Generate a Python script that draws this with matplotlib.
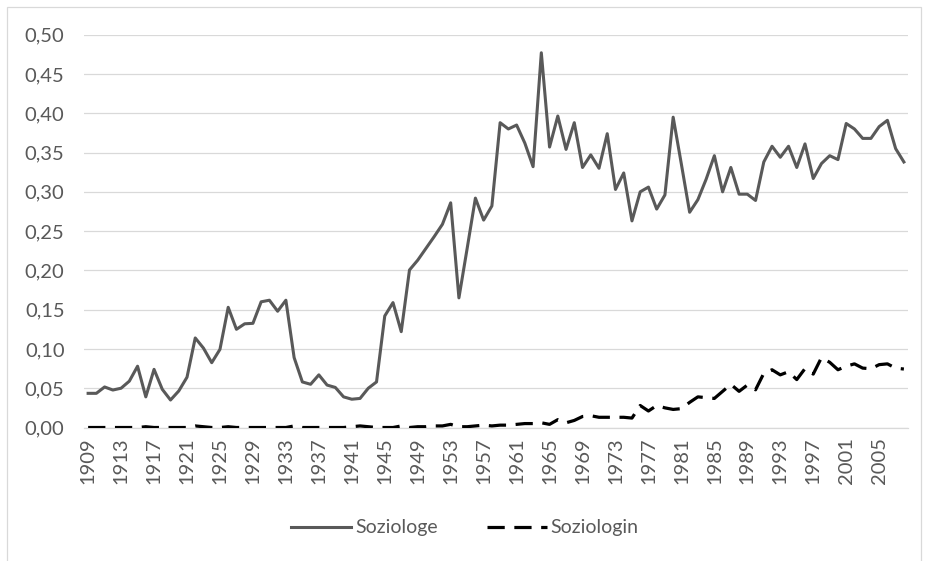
import numpy as np
import matplotlib
matplotlib.use('Agg')
import matplotlib.pyplot as plt
from matplotlib.patches import Rectangle

# Daten: Anteil pro Jahr, 1909-2008

YEARS = list(range(1909, 2009))

SOZIOLOGE = [
    0.0435, 0.0435, 0.0516, 0.0477, 0.050, 0.059, 0.078, 0.039, 0.074, 0.0486,   # 1909-1918
    0.035, 0.0465, 0.064, 0.114, 0.101, 0.0825, 0.0995, 0.153, 0.125, 0.132,     # 1919-1928
    0.1326, 0.160, 0.162, 0.148, 0.162, 0.089, 0.058, 0.055, 0.067, 0.054,       # 1929-1938
    0.051, 0.039, 0.036, 0.037, 0.050, 0.058, 0.142, 0.159, 0.122, 0.2005,       # 1939-1948
    0.213, 0.228, 0.243, 0.2587, 0.286, 0.165, 0.228, 0.292, 0.264, 0.282,       # 1949-1958
    0.388, 0.380, 0.385, 0.362, 0.332, 0.477, 0.357, 0.3965, 0.354, 0.388,       # 1959-1968
    0.331, 0.347, 0.330, 0.374, 0.303, 0.324, 0.263, 0.300, 0.306, 0.278,        # 1969-1978
    0.296, 0.395, 0.335, 0.274, 0.290, 0.316, 0.346, 0.300, 0.331, 0.297,        # 1979-1988
    0.297, 0.289, 0.338, 0.358, 0.344, 0.358, 0.331, 0.361, 0.317, 0.336,        # 1989-1998
    0.346, 0.341, 0.387, 0.380, 0.368, 0.368, 0.383, 0.391, 0.355, 0.338,        # 1999-2008
]

SOZIOLOGIN = [
    0.000, 0.000, 0.000, 0.000, 0.000, 0.000, 0.000, 0.001, 0.000, 0.000,       # 1909-1918
    0.000, 0.000, 0.000, 0.002, 0.001, 0.000, 0.000, 0.001, 0.000, 0.000,       # 1919-1928
    0.000, 0.000, 0.000, 0.000, 0.000, 0.002, 0.000, 0.000, 0.000, 0.000,       # 1929-1938
    0.000, 0.000, 0.001, 0.002, 0.001, 0.000, 0.000, 0.000, 0.002, 0.000,       # 1939-1948
    0.001, 0.001, 0.002, 0.002, 0.004, 0.001, 0.001, 0.002, 0.003, 0.002,       # 1949-1958
    0.003, 0.003, 0.004, 0.005, 0.005, 0.006, 0.004, 0.010, 0.006, 0.009,       # 1959-1968
    0.014, 0.015, 0.013, 0.013, 0.013, 0.013, 0.012, 0.028, 0.021, 0.028,       # 1969-1978
    0.025, 0.023, 0.024, 0.032, 0.039, 0.038, 0.037, 0.046, 0.055, 0.046,       # 1979-1988
    0.054, 0.048, 0.069, 0.0735, 0.067, 0.071, 0.061, 0.075, 0.068, 0.089,      # 1989-1998
    0.083, 0.0735, 0.078, 0.081, 0.0756, 0.0748, 0.080, 0.081, 0.0756, 0.0744,  # 1999-2008
]

Y_TICKS = [0.00, 0.05, 0.10, 0.15, 0.20, 0.25, 0.30, 0.35, 0.40, 0.45, 0.50]
X_TICK_STEP = 4

TEXT_CLR = '#595959'
GRID_CLR = '#d9d9d9'


def fmt_de(v):
    return f'{v:.2f}'.replace('.', ',')


plt.rcParams['font.family'] = ['Lato', 'DejaVu Sans']

fig = plt.figure(figsize=(9.27, 5.61), dpi=100)
fig.patch.set_facecolor('#FFFFFF')

# Rahmen um den Diagrammbereich (unten abgeschnitten)
fig.patches.append(Rectangle((7 / 927, -0.05), (921 - 7) / 927, 1.05 - 7 / 561,
                             transform=fig.transFigure, fill=False,
                             edgecolor=GRID_CLR, lw=0.9))

ax = fig.add_axes([84 / 927, 1 - 427.5 / 561, (908 - 84) / 927, (427.5 - 34.7) / 561])

x = np.arange(len(YEARS))
ax.plot(x, SOZIOLOGE, color='#595959', lw=2.2, solid_joinstyle='round',
        label='Soziologe', zorder=3)
ax.plot(x, SOZIOLOGIN, color='#000000', lw=2.3, dashes=(5.4, 3.0),
        dash_capstyle='butt', label='Soziologin', zorder=3)

ax.set_xlim(-0.5, len(YEARS) - 0.5)
ax.set_ylim(0, 0.5)

ax.set_yticks(Y_TICKS)
ax.set_yticklabels([fmt_de(v) for v in Y_TICKS])
ax.set_xticks(x[::X_TICK_STEP])
ax.set_xticklabels([str(y) for y in YEARS[::X_TICK_STEP]], rotation=90)

ax.tick_params(axis='y', length=0, pad=14, labelsize=14.5, labelcolor=TEXT_CLR)
ax.tick_params(axis='x', length=0, pad=7, labelsize=14.5, labelcolor=TEXT_CLR)

ax.yaxis.grid(True, color=GRID_CLR, lw=0.9)
ax.set_axisbelow(True)
for side in ['top', 'right', 'left']:
    ax.spines[side].set_visible(False)
ax.spines['bottom'].set_color(GRID_CLR)
ax.spines['bottom'].set_linewidth(0.9)

handles, labels = ax.get_legend_handles_labels()
fig.legend(handles, labels, loc='center', bbox_to_anchor=(465 / 927, 1 - 528 / 561),
           ncol=2, frameon=False, fontsize=14, labelcolor=TEXT_CLR,
           handlelength=3.1, handletextpad=0.2, columnspacing=2.5)

plt.savefig('out.png', dpi=100, facecolor='#FFFFFF')
plt.close()
